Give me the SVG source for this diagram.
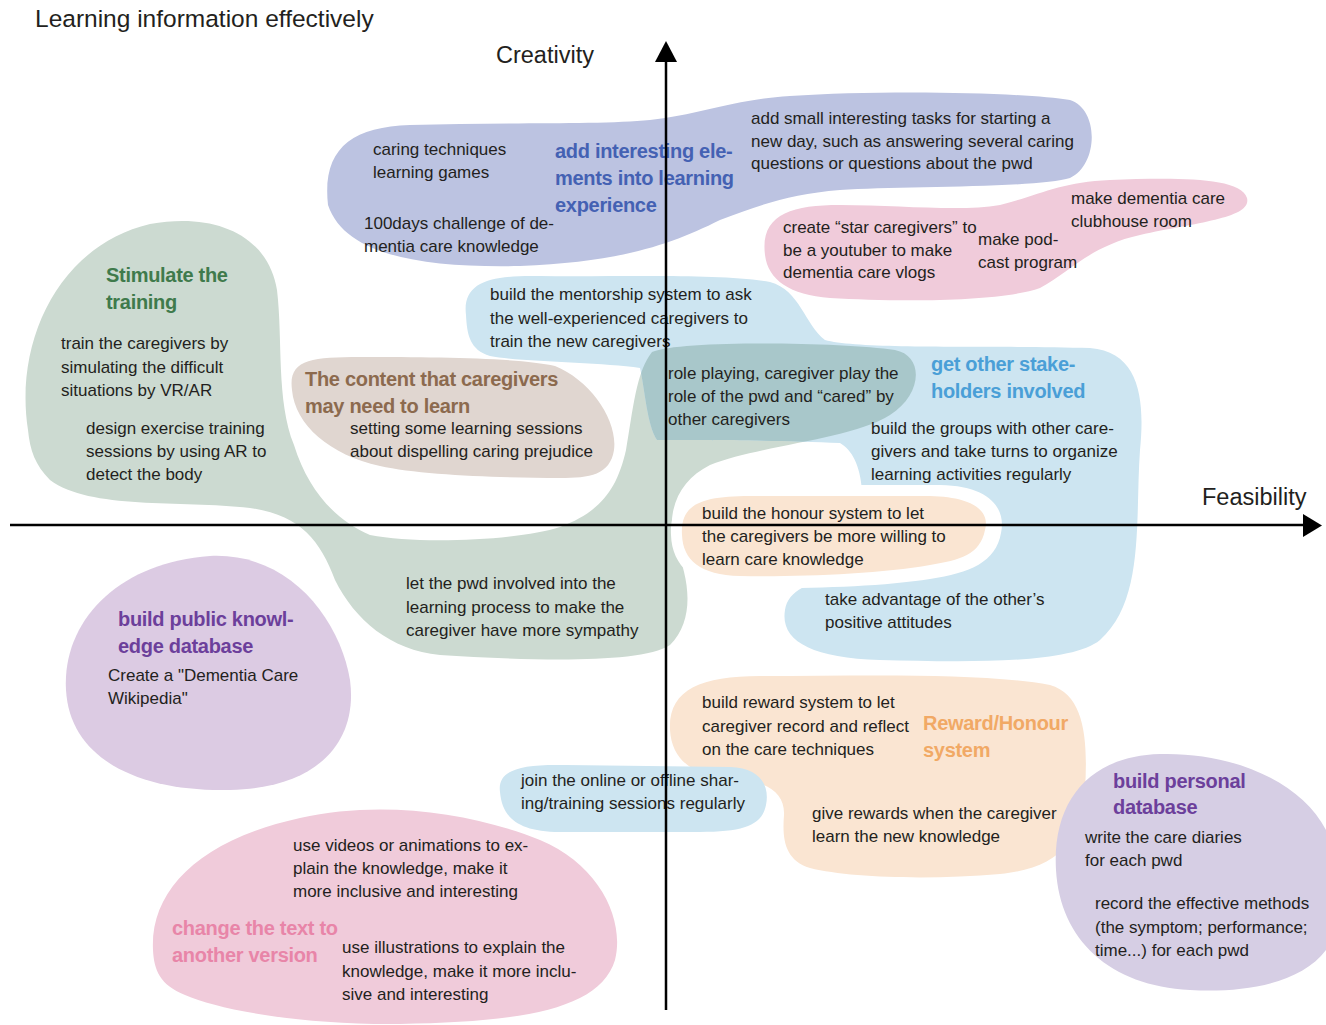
<svg xmlns="http://www.w3.org/2000/svg" xmlns:xlink="http://www.w3.org/1999/xlink" width="1326" height="1025" viewBox="0 0 1326 1025">
<style>
.t{font-family:"Liberation Sans",Arial,sans-serif;font-size:17px;fill:#231f20}
.h{font-family:"Liberation Sans",Arial,sans-serif;font-size:20px;font-weight:bold;letter-spacing:-0.3px}
.lbl{font-family:"Liberation Sans",Arial,sans-serif;font-size:23.5px;fill:#231f20}
.ax{stroke:#000;stroke-width:2.5;fill:none}
.ah{fill:#000}
</style>
<defs>
<path id="greenShape" d="M 28,430 C 14,340 60,245 150,224 C 215,212 268,235 277,290 C 283,340 276,400 294,445 C 308,490 335,520 370,535 C 420,545 520,540 560,527 C 600,512 617,490 626,450 C 633,410 636,372 652,352 C 680,340 840,342 895,350 C 925,356 922,395 890,415 C 850,440 760,445 710,465 C 680,480 665,510 675,545 C 690,580 695,620 670,645 C 640,665 520,660 440,655 C 390,650 355,620 335,580 C 320,540 300,515 250,508 C 180,500 90,510 50,480 C 35,465 30,450 28,430 Z"/>
<path id="blueShape" d="M 466,315 C 462,282 490,275 540,276 C 620,277 720,273 770,282 C 800,290 805,325 825,340 C 860,350 1000,345 1090,348 C 1140,352 1145,400 1140,450 C 1135,520 1145,600 1100,640 C 1070,665 960,662 880,660 C 810,658 780,640 785,610 C 788,590 810,582 840,575 C 860,560 862,520 862,490 C 860,465 852,450 840,443 C 780,440 700,440 657,440 C 647,425 645,390 640,368 C 600,362 520,362 490,356 C 470,350 467,335 466,315 Z"/>
<clipPath id="blueClip"><use xlink:href="#blueShape"/></clipPath>
</defs>

<g id="add-interesting-elements">
<path d="M 328,205 C 322,150 350,127 410,125 C 500,122 600,125 650,120 C 700,115 730,100 790,96 C 880,90 1020,92 1070,100 C 1100,110 1098,165 1070,178 C 1040,188 900,186 840,190 C 790,194 760,205 720,220 C 670,245 620,262 520,266 C 420,268 345,255 328,205 Z" fill="#bcc3e1"/>
<text class="t" x="373" y="155">caring techniques<tspan x="373" dy="23">learning games</tspan></text>
<text class="t" x="364" y="229">100days challenge of de-<tspan x="364" dy="23">mentia care knowledge</tspan></text>
<text class="h" x="555" y="158" fill="#4461b3">add interesting ele-<tspan x="555" dy="27">ments into learning</tspan><tspan x="555" dy="27">experience</tspan></text>
<text class="t" x="751" y="124">add small interesting tasks for starting a<tspan x="751" dy="22.5">new day, such as answering several caring</tspan><tspan x="751" dy="22.5">questions or questions about the pwd</tspan></text>
</g>

<g id="media-ideas">
<path d="M 765,255 C 760,215 790,205 840,205 C 900,205 960,212 1000,205 C 1040,195 1060,182 1110,180 C 1170,178 1240,176 1247,198 C 1252,218 1200,222 1140,235 C 1090,246 1070,272 1040,288 C 1000,302 900,302 830,298 C 790,295 768,280 765,255 Z" fill="#f0cbda"/>
<text class="t" x="783" y="233">create “star caregivers” to<tspan x="783" dy="22.5">be a youtuber to make</tspan><tspan x="783" dy="22.5">dementia care vlogs</tspan></text>
<text class="t" x="978" y="245">make pod-<tspan x="978" dy="23">cast program</tspan></text>
<text class="t" x="1071" y="204">make dementia care<tspan x="1071" dy="23">clubhouse room</tspan></text>
</g>

<g id="stimulate-training">
<use xlink:href="#greenShape" fill="#ccdad1"/>
<text class="h" x="106" y="282" fill="#3f7a4c">Stimulate the<tspan x="106" dy="27">training</tspan></text>
<text class="t" x="61" y="349">train the caregivers by<tspan x="61" dy="23.5">simulating the difficult</tspan><tspan x="61" dy="23.5">situations by VR/AR</tspan></text>
<text class="t" x="86" y="434">design exercise training<tspan x="86" dy="23">sessions by using AR to</tspan><tspan x="86" dy="23">detect the body</tspan></text>
<text class="t" x="406" y="589">let the pwd involved into the<tspan x="406" dy="23.5">learning process to make the</tspan><tspan x="406" dy="23.5">caregiver have more sympathy</tspan></text>
</g>

<g id="content-to-learn">
<path d="M 292,390 C 288,360 310,357 360,357 C 440,357 520,358 555,366 C 590,380 618,420 614,450 C 610,475 590,478 560,478 C 500,478 420,475 380,466 C 330,455 295,425 292,390 Z" fill="#e0d6d0"/>
<text class="h" x="305" y="386" fill="#8c6a4e">The content that caregivers<tspan x="305" dy="27">may need to learn</tspan></text>
<text class="t" x="350" y="434">setting some learning sessions<tspan x="350" dy="23">about dispelling caring prejudice</tspan></text>
</g>

<g id="stakeholders">
<use xlink:href="#blueShape" fill="#cde5f1"/>
<use xlink:href="#greenShape" fill="#a8c7ca" clip-path="url(#blueClip)"/>
<text class="t" x="490" y="300">build the mentorship system to ask<tspan x="490" dy="23.5">the well-experienced caregivers to</tspan><tspan x="490" dy="23.5">train the new caregivers</tspan></text>
<text class="t" x="668" y="379">role playing, caregiver play the<tspan x="668" dy="23">role of the pwd and “cared” by</tspan><tspan x="668" dy="23">other caregivers</tspan></text>
<text class="h" x="931" y="371" fill="#4a9fd7">get other stake-<tspan x="931" dy="27">holders involved</tspan></text>
<text class="t" x="871" y="434">build the groups with other care-<tspan x="871" dy="23">givers and take turns to organize</tspan><tspan x="871" dy="23">learning activities regularly</tspan></text>
<text class="t" x="825" y="605">take advantage of the other’s<tspan x="825" dy="23">positive attitudes</tspan></text>
</g>

<g id="honour-system">
<path d="M 671,535 C 669,494 700,485 750,485 L 940,485 C 992,486 1006,510 1001,533 C 996,562 970,573 930,579 C 880,587 800,589 740,588 C 694,587 672,566 671,535 Z" fill="#ffffff"/>
<path d="M 682,535 C 680,505 700,496 750,496 L 930,496 C 975,497 990,512 985,530 C 980,555 960,560 930,565 C 880,574 800,577 740,576 C 700,575 683,560 682,535 Z" fill="#fae5d2"/>
<text class="t" x="702" y="519">build the honour system to let<tspan x="702" dy="23">the caregivers be more willing to</tspan><tspan x="702" dy="23">learn care knowledge</tspan></text>
</g>

<g id="reward-honour">
<path d="M 670,730 C 668,690 700,676 760,676 C 860,676 980,672 1050,685 C 1085,695 1088,740 1085,790 C 1082,840 1060,868 1000,874 C 930,880 850,878 810,868 C 785,860 782,840 784,815 C 785,795 770,782 740,780 C 700,778 672,765 670,730 Z" fill="#fae5d2"/>
<text class="t" x="702" y="708">build reward system to let<tspan x="702" dy="23.5">caregiver record and reflect</tspan><tspan x="702" dy="23.5">on the care techniques</tspan></text>
<text class="h" x="923" y="730" fill="#f1a965">Reward/Honour<tspan x="923" dy="27">system</tspan></text>
<text class="t" x="812" y="819">give rewards when the caregiver<tspan x="812" dy="23">learn the new knowledge</tspan></text>
</g>

<g id="sharing-sessions">
<path d="M 500,792 C 497,770 520,764 565,765 L 730,767 C 760,768 770,785 766,805 C 762,825 745,832 700,832 L 560,832 C 515,832 502,815 500,792 Z" fill="#cde5f1"/>
<text class="t" x="521" y="786">join the online or offline shar-<tspan x="521" dy="23">ing/training sessions regularly</tspan></text>
</g>

<g id="public-database">
<path d="M 66,690 C 62,620 120,562 210,556 C 290,552 340,620 350,680 C 358,740 320,788 230,790 C 140,792 70,760 66,690 Z" fill="#dccbe3"/>
<text class="h" x="118" y="626" fill="#6c3f9b">build public knowl-<tspan x="118" dy="27">edge database</tspan></text>
<text class="t" x="108" y="681">Create a "Dementia Care<tspan x="108" dy="23">Wikipedia"</tspan></text>
</g>

<g id="personal-database">
<path d="M 1056,870 C 1052,800 1090,756 1160,754 C 1230,752 1300,780 1326,830 L 1326,950 C 1300,985 1240,993 1190,990 C 1110,986 1060,940 1056,870 Z" fill="#d6cee4"/>
<text class="h" x="1113" y="788" fill="#6c3f9b">build personal<tspan x="1113" dy="26">database</tspan></text>
<text class="t" x="1085" y="843">write the care diaries<tspan x="1085" dy="23">for each pwd</tspan></text>
<text class="t" x="1095" y="909">record the effective methods<tspan x="1095" dy="23.5">(the symptom; performance;</tspan><tspan x="1095" dy="23.5">time...) for each pwd</tspan></text>
</g>

<g id="change-text">
<path d="M 153,950 C 150,890 200,840 300,818 C 380,800 470,812 540,840 C 600,865 625,920 615,960 C 600,1010 520,1022 400,1024 C 300,1025 220,1010 185,995 C 160,985 154,970 153,950 Z" fill="#f0cbda"/>
<text class="t" x="293" y="851">use videos or animations to ex-<tspan x="293" dy="23">plain the knowledge, make it</tspan><tspan x="293" dy="23">more inclusive and interesting</tspan></text>
<text class="h" x="172" y="935" fill="#e885a8">change the text to<tspan x="172" dy="27">another version</tspan></text>
<text class="t" x="342" y="953">use illustrations to explain the<tspan x="342" dy="23.5">knowledge, make it more inclu-</tspan><tspan x="342" dy="23.5">sive and interesting</tspan></text>
</g>

<g id="axes">
<line class="ax" x1="10" y1="525" x2="1306" y2="525"/>
<polygon class="ah" points="1303,514 1322,525.5 1303,537"/>
<line class="ax" x1="666" y1="1010" x2="666" y2="60"/>
<polygon class="ah" points="655,62 666,41 677,62"/>
<text class="lbl" x="496" y="63">Creativity</text>
<text class="lbl" x="1202" y="505">Feasibility</text>
</g>

<text class="lbl" x="35" y="27" style="font-size:24.5px">Learning information effectively</text>
</svg>
